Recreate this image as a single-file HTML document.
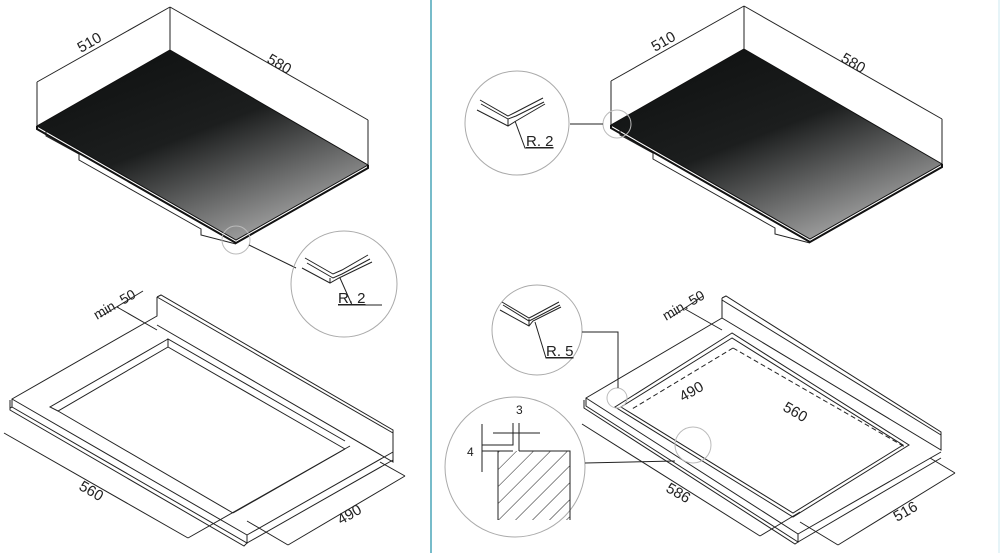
<!DOCTYPE html>
<html><head><meta charset="utf-8"><style>
html,body{margin:0;padding:0;background:#fff}
svg{display:block}
text{font-family:"Liberation Sans",sans-serif;fill:#222}
</style></head><body>
<svg width="1000" height="553" viewBox="0 0 1000 553" xmlns="http://www.w3.org/2000/svg">
<defs>
<linearGradient id="g" x1="0.2" y1="0.1" x2="0.8" y2="1">
<stop offset="0" stop-color="#111313"/><stop offset="0.4" stop-color="#1c1e1e"/><stop offset="1" stop-color="#b4b4b4"/>
</linearGradient>
<pattern id="hatch" width="12" height="12" patternUnits="userSpaceOnUse" patternTransform="rotate(45)">
<line x1="0" y1="0" x2="0" y2="12" stroke="#222" stroke-width="1"/>
</pattern>
<g id="hob">
<polyline points="46,131 46,136 79,154 79,160 201,229 201,235 236,244" fill="none" stroke="#222" stroke-width="1"/>
<polygon points="170,50 368,165 236,240 37,126" fill="url(#g)" stroke="#111" stroke-width="1"/>
<polyline points="37,126 37,129 236,243 368,168 368,165" fill="none" stroke="#111" stroke-width="2"/>
<g stroke="#222" stroke-width="1" fill="none">
<line x1="170" y1="50" x2="170" y2="7"/><line x1="37" y1="126" x2="37" y2="82"/><line x1="368" y1="165" x2="368" y2="120"/>
<line x1="37" y1="82" x2="170" y2="7"/><line x1="170" y1="7" x2="368" y2="120"/>
</g>
<text x="0" y="0" font-size="15" transform="translate(81,53) rotate(-30)">510</text>
<text x="0" y="0" font-size="15" transform="translate(266,62) rotate(30)">580</text>
</g>
</defs>

<line x1="431" y1="0" x2="431" y2="553" stroke="#4aa6b8" stroke-width="1.5"/>
<line x1="999" y1="0" x2="999" y2="553" stroke="#cde8f0" stroke-width="1"/>

<use href="#hob"/>
<use href="#hob" transform="translate(574,-1)"/>

<g stroke="#222" stroke-width="1" fill="none">
<circle cx="236" cy="240" r="14" stroke="#bbb"/>
<line x1="249" y1="245" x2="296" y2="268"/>
<circle cx="344" cy="284" r="53" stroke="#aaa"/>
<polyline points="305,258 333,274 342,270 368,255"/>
<polyline points="307,263 333,278 342,274 370,259"/>
<polyline points="302,268 330,283 339,278 372,262"/>
<line x1="330" y1="283" x2="330" y2="278"/>
<polyline points="340,278 352,305 382,305"/>
<circle cx="617" cy="124" r="14" stroke="#bbb"/>
<line x1="570" y1="124" x2="603" y2="124"/>
<circle cx="517" cy="123" r="52" stroke="#aaa"/>
<polyline points="480,100 508,116 516,112 543,98"/>
<polyline points="481,104 508,119 516,116 544,102"/>
<polyline points="477,110 508,126 516,121 545,104"/>
<line x1="508" y1="126" x2="508" y2="119"/>
<polyline points="515,121 525,148 553,148"/>

<polyline points="157,297 157,316 12,399 12,407 247,543 247,535 12,399"/>
<polyline points="157,297 161,295 393,430 393,462 157,325"/>
<line x1="157" y1="297" x2="393" y2="433"/>
<line x1="12" y1="407" x2="10" y2="408"/>
<polyline points="10,400 10,410 244,546 247,543"/>
<line x1="247" y1="535" x2="393" y2="452"/>
<line x1="247" y1="543" x2="393" y2="460"/>
<polyline points="168,339 50,407 58,411 168,347 168,339 345,441"/>
<line x1="168" y1="347" x2="345" y2="449"/>
<line x1="58" y1="411" x2="233" y2="513"/>
<line x1="233" y1="513" x2="345" y2="449"/>
<line x1="4" y1="433" x2="188" y2="538"/>
<line x1="188" y1="538" x2="350" y2="446"/>
<line x1="288" y1="545" x2="405" y2="476"/>
<line x1="288" y1="545" x2="247" y2="521"/>
<line x1="405" y1="476" x2="380" y2="462"/>
<line x1="100" y1="317" x2="143" y2="291"/>
<line x1="117" y1="307" x2="157" y2="330"/>

<polyline points="722,298 722,318 586,398 586,406 798,542 798,534 586,398"/>
<polyline points="722,298 726,296 941,432 941,450 722,318"/>
<line x1="722" y1="300" x2="941" y2="435"/>
<polyline points="584,400 584,408 795,544 798,542"/>
<line x1="798" y1="534" x2="941" y2="452"/>
<line x1="798" y1="542" x2="941" y2="458"/>
<polygon points="732,333 615,407 793,517 909,445"/>
<polygon points="732,338 621,407 793,513 903,445"/>
<polyline points="733,348 632,409" stroke-dasharray="5,3"/>
<polyline points="733,348 905,447" stroke-dasharray="5,3"/>
<line x1="582" y1="424" x2="760" y2="536"/>
<line x1="760" y1="536" x2="800" y2="512"/>
<line x1="838" y1="545" x2="955" y2="473"/>
<line x1="838" y1="545" x2="800" y2="522"/>
<line x1="955" y1="473" x2="930" y2="458"/>
<line x1="670" y1="318" x2="703" y2="296"/>
<line x1="685" y1="309" x2="722" y2="330"/>
<circle cx="617" cy="398" r="10" stroke="#bbb"/>
<circle cx="693" cy="445" r="18" stroke="#bbb"/>
<circle cx="537" cy="330" r="45" stroke="#aaa"/>
<polyline points="582,332 618,332 618,388"/>
<circle cx="515" cy="467" r="70" stroke="#aaa"/>
<line x1="585" y1="463" x2="675" y2="461"/>
<polyline points="502,302 529,318 533,316 559,302"/>
<polyline points="503,305 529,321 533,319 560,305"/>
<polyline points="500,310 529,326 533,321 561,307"/>
<line x1="529" y1="326" x2="529" y2="319"/>
<polyline points="535,322 546,358 570,358"/>
<rect x="498" y="451" width="72" height="69" fill="url(#hatch)" stroke="none"/>
<polyline points="498,520 498,451 513,451"/>
<polyline points="519,451 570,451 570,520"/>
<polyline points="482,445 513,445 513,423"/>
<polyline points="482,451 498,451"/>
<line x1="519" y1="423" x2="519" y2="451"/>
<line x1="493" y1="433" x2="540" y2="433"/>
<line x1="482" y1="424" x2="482" y2="472"/>
</g>
<g fill="#222" font-size="15">
<text x="338" y="303" text-decoration="underline">R. 2</text>
<text x="526" y="146" text-decoration="underline">R. 2</text>
<text x="546" y="356" text-decoration="underline">R. 5</text>
<text x="516" y="414" font-size="12">3</text>
<text x="467" y="456" font-size="12">4</text>
<text transform="translate(97,320) rotate(-30)" font-size="14">min. 50</text>
<text transform="translate(666,321) rotate(-30)" font-size="14">min. 50</text>
<text transform="translate(78,489) rotate(30)">560</text>
<text transform="translate(341,525) rotate(-30)">490</text>
<text transform="translate(665,491) rotate(30)">586</text>
<text transform="translate(897,522) rotate(-30)">516</text>
<text transform="translate(683,402) rotate(-30)">490</text>
<text transform="translate(782,410) rotate(30)">560</text>
</g>
</svg>
</body></html>
